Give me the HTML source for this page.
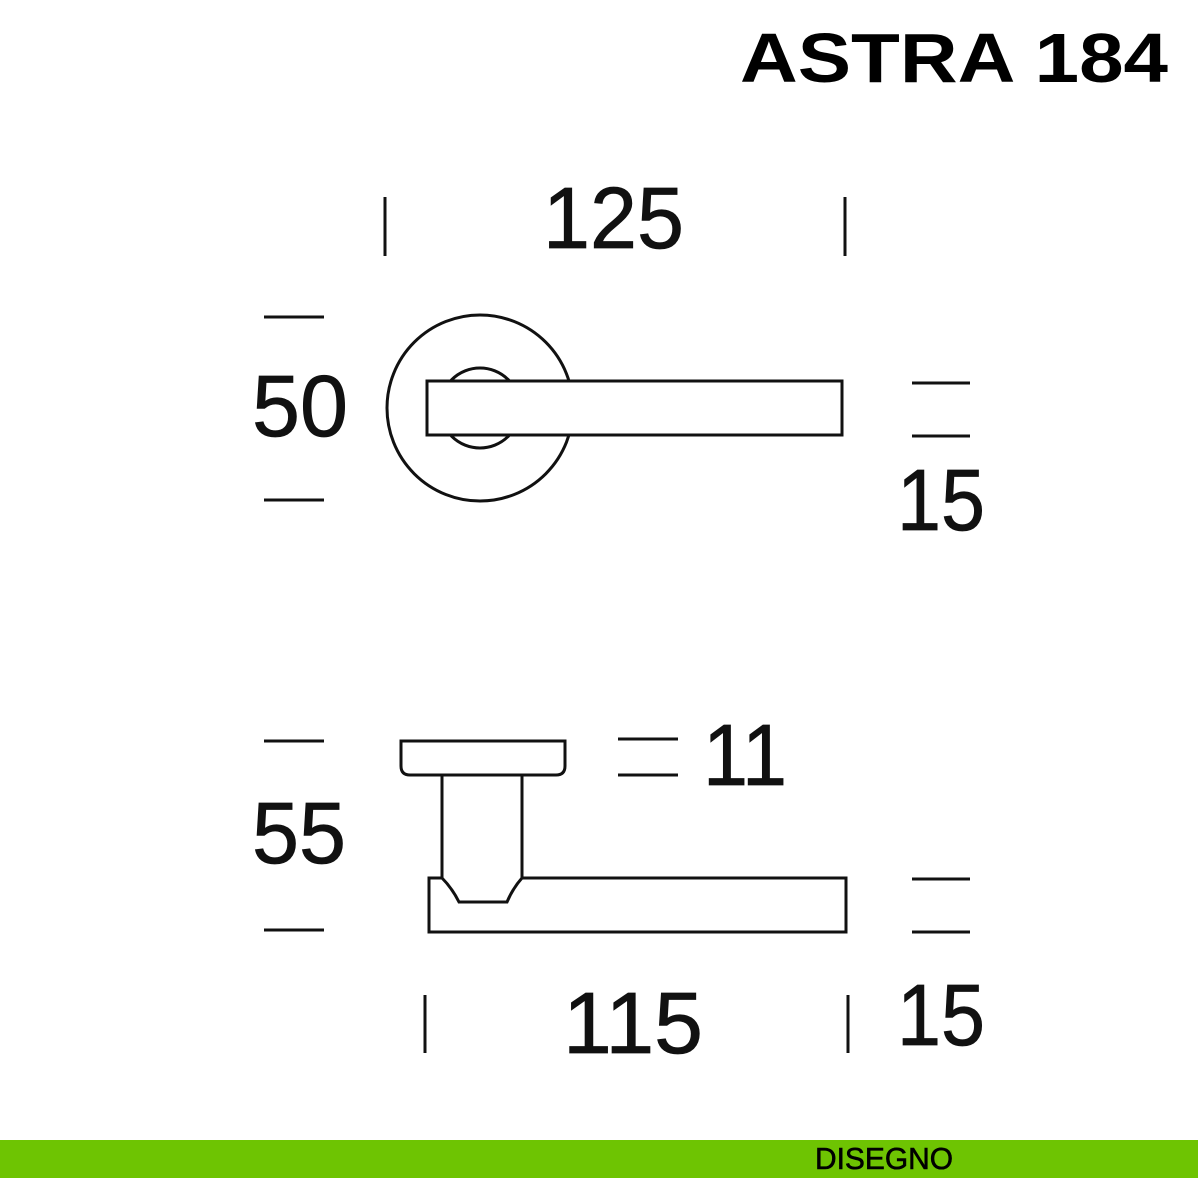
<!DOCTYPE html>
<html><head><meta charset="utf-8"><style>
html,body{margin:0;padding:0;background:#fff;}
svg{display:block;}
text{font-family:"Liberation Sans",sans-serif;fill:#111;}
</style></head><body>
<svg width="1200" height="1200" viewBox="0 0 1200 1200" xmlns="http://www.w3.org/2000/svg">
<rect width="1200" height="1200" fill="#fff"/>
<text x="740" y="82" font-size="70" font-weight="bold" textLength="428" lengthAdjust="spacingAndGlyphs" style="fill:#000">ASTRA 184</text>

<g stroke="#111" stroke-width="3" fill="none">
<line x1="385" y1="197" x2="385" y2="256"/>
<line x1="845" y1="197" x2="845" y2="256"/>
<line x1="264" y1="317" x2="324" y2="317"/>
<line x1="264" y1="500" x2="324" y2="500"/>
<line x1="912" y1="383" x2="970" y2="383"/>
<line x1="912" y1="436" x2="970" y2="436"/>
<line x1="264" y1="741" x2="324" y2="741"/>
<line x1="264" y1="930" x2="324" y2="930"/>
<line x1="618" y1="739" x2="678" y2="739"/>
<line x1="618" y1="775" x2="678" y2="775"/>
<line x1="912" y1="879" x2="970" y2="879"/>
<line x1="912" y1="932" x2="970" y2="932"/>
<line x1="425" y1="995" x2="425" y2="1053"/>
<line x1="848" y1="995" x2="848" y2="1053"/>

<circle cx="480" cy="408" r="93"/>
<circle cx="480" cy="408" r="40"/>
<rect x="427" y="381" width="415" height="54" fill="#fff"/>

<path d="M401 741 H565 V766 Q565 775 556 775 H410 Q401 775 401 766 Z" fill="#fff"/>
<line x1="442" y1="775" x2="442" y2="878"/>
<line x1="522" y1="775" x2="522" y2="878"/>
<path d="M429 878 H442 Q452 888 459 902 H507 Q513 888 522 878 H846 V932 H429 Z"/>
</g>

<g font-size="87" stroke="#111" stroke-width="0.8">
<text x="543" y="248" textLength="141" lengthAdjust="spacingAndGlyphs">125</text>
<text x="252" y="436" textLength="96" lengthAdjust="spacingAndGlyphs">50</text>
<text x="897" y="530" textLength="88" lengthAdjust="spacingAndGlyphs">15</text>
<text x="703" y="785" textLength="84" lengthAdjust="spacingAndGlyphs">11</text>
<text x="252" y="863" textLength="94" lengthAdjust="spacingAndGlyphs">55</text>
<text x="563" y="1053" textLength="140" lengthAdjust="spacingAndGlyphs">115</text>
<text x="897" y="1045" textLength="88" lengthAdjust="spacingAndGlyphs">15</text>
</g>

<rect x="0" y="1140" width="1198" height="38" fill="#6ec402"/>
<text x="815" y="1169" font-size="31" stroke="#000" stroke-width="0.6" textLength="138" lengthAdjust="spacingAndGlyphs" style="fill:#000">DISEGNO</text>
</svg>
</body></html>
